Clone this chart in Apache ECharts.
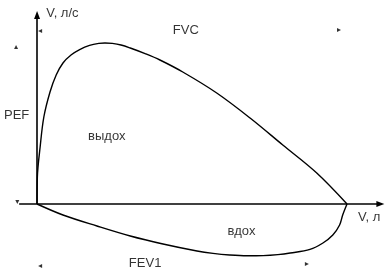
<!DOCTYPE html>
<html><head><meta charset="utf-8">
<script src="https://cdn.jsdelivr.net/npm/echarts@6/dist/echarts.min.js"></script>
<style>html,body{margin:0;padding:0;background:#fff}#c{width:389px;height:270px}</style>
</head><body><div id="c"></div>
<script>
// Exhalation curve: [volume (l), flow (l/s)]
const exhale = [[0,0],[0.005,1.35],[0.05,2.85],[0.11,4.35],[0.21,5.6],[0.31,6.45],[0.42,7.05],[0.55,7.45],[0.69,7.72],[0.85,7.93],[1.0,8.03],[1.1,8.05],[1.22,8.03],[1.36,7.95],[1.51,7.8],[1.75,7.52],[1.99,7.2],[2.36,6.6],[2.91,5.55],[3.45,4.3],[3.98,2.95],[4.53,1.55],[5.02,0]];
// Inhalation curve
const inhale = [[0,0],[0.42,-0.55],[0.97,-1.1],[1.51,-1.6],[2.04,-2.0],[2.59,-2.35],[2.85,-2.47],[3.12,-2.55],[3.4,-2.59],[3.66,-2.58],[3.9,-2.53],[4.1,-2.45],[4.42,-2.27],[4.63,-1.95],[4.79,-1.55],[4.9,-1.05],[4.95,-0.55],[5.02,0]];
// Axis extents
const xAxisLine = [[-0.29,0],[5.56,0]];
const yAxisLine = [[0,0],[0,9.45]];
// Dimension arrowheads: [x, y, rotation]
const arrowHeads = [[0.05,8.65,90],[4.89,8.7,-90],[-0.34,7.85,0],[-0.32,0.1,180],[0.05,-3.1,90],[4.37,-3.0,-90]];
// Text labels: [x, y, text]
const labels = [[0.41,9.55,'V, л/с'],[2.41,8.7,'FVC'],[-0.33,4.45,'PEF'],[1.13,3.4,'выдох'],[3.31,-1.35,'вдох'],[5.38,-0.65,'V, л'],[1.75,-2.95,'FEV1']];

const chart = echarts.init(document.getElementById('c'));
const font = 'Liberation Sans, Arial, sans-serif';
chart.setOption({
  animation:false,
  grid:{left:0,right:0,top:0,bottom:0},
  xAxis:{type:'value',min:-0.6,max:5.7,show:false},
  yAxis:{type:'value',min:-3.3,max:10.2,show:false},
  series:[
    {type:'line',data:exhale,smooth:0.35,showSymbol:false,lineStyle:{color:'#000',width:1.4},silent:true},
    {type:'line',data:inhale,smooth:0.35,showSymbol:false,lineStyle:{color:'#000',width:1.4},silent:true},
    {type:'line',data:[],silent:true,
      markLine:{silent:true,symbol:['none','triangle'],symbolSize:[6,8],
        label:{show:false},lineStyle:{color:'#000',width:1.6,type:'solid'},
        data:[[{coord:xAxisLine[0]},{coord:xAxisLine[1]}],[{coord:yAxisLine[0]},{coord:yAxisLine[1]}]]}},
    {type:'scatter',silent:true,symbol:'triangle',symbolSize:[4,4],
      itemStyle:{color:'#000'},
      data:arrowHeads.map(a=>({value:[a[0],a[1]],symbolRotate:a[2]}))},
    {type:'scatter',silent:true,symbolSize:0,
      data:labels.map(l=>({value:[l[0],l[1]],name:l[2]})),
      label:{show:true,position:'inside',formatter:p=>p.name,color:'#000',fontSize:13,fontFamily:font}}
  ]
});
</script></body></html>
